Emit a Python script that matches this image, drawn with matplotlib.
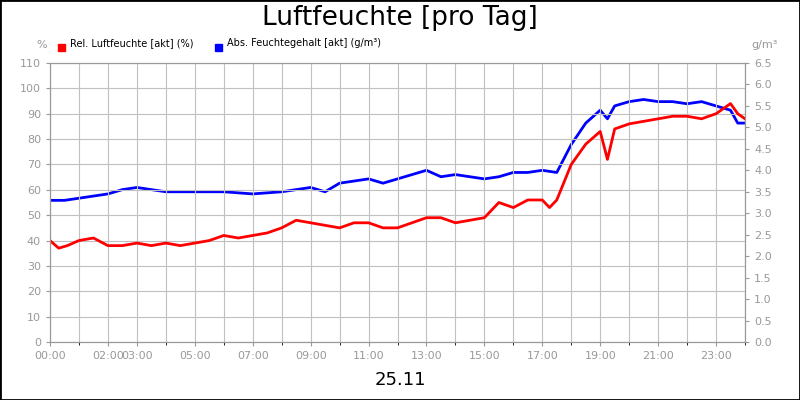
import matplotlib
matplotlib.use("Agg")
import matplotlib.pyplot as plt
from matplotlib.patches import Rectangle

hours_rel = [0,0.3,0.6,1,1.5,2,2.5,3,3.5,4,4.5,5,5.5,6,6.5,7,7.5,8,8.5,9,9.5,10,10.5,11,11.5,12,12.5,13,13.5,14,14.5,15,15.5,16,16.5,17,17.25,17.5,18,18.5,19,19.25,19.5,20,20.5,21,21.5,22,22.5,23,23.5,23.75,24]
rel = [40,37,38,40,41,38,38,39,38,39,38,39,40,42,41,42,43,45,48,47,46,45,47,47,45,45,47,49,49,47,48,49,55,53,56,56,53,56,70,78,83,72,84,86,87,88,89,89,88,90,94,90,88]
hours_abs = [0,0.5,1,1.5,2,2.5,3,3.5,4,5,6,7,8,8.5,9,9.5,10,10.5,11,11.5,12,12.5,13,13.5,14,14.5,15,15.5,16,16.5,17,17.5,18,18.5,19,19.25,19.5,20,20.5,21,21.5,22,22.5,23,23.5,23.75,24]
absf = [3.3,3.3,3.35,3.4,3.45,3.55,3.6,3.55,3.5,3.5,3.5,3.45,3.5,3.55,3.6,3.5,3.7,3.75,3.8,3.7,3.8,3.9,4.0,3.85,3.9,3.85,3.8,3.85,3.95,3.95,4.0,3.95,4.6,5.1,5.4,5.2,5.5,5.6,5.65,5.6,5.6,5.55,5.6,5.5,5.4,5.1,5.1]
xlabels = ["00:00","02:00","03:00","05:00","07:00","09:00","11:00","13:00","15:00","17:00","19:00","21:00","23:00"]
xlabel_hours = [0,2,3,5,7,9,11,13,15,17,19,21,23]

fig = plt.figure(figsize=(8,4), dpi=100)
fig.patches.append(Rectangle((0,0),1,1,transform=fig.transFigure,fill=False,ec='black',lw=2))
ax = fig.add_axes([50/800, 58/400, 695/800, 279/400])
ax.plot(hours_rel, rel, color='#ff0000', lw=2)
ax.set_xlim(0,24); ax.set_ylim(0,110)
ax.set_yticks(range(0,111,10))
ax.set_xticks(range(0,25), minor=True)
ax.set_xticks(xlabel_hours)
ax.set_xticklabels(xlabels)
ax.grid(True, which='both', color='#c0c0c0', lw=0.8)
ax.set_axisbelow(True)
ax2 = ax.twinx()
ax2.plot(hours_abs, absf, color='#0000ff', lw=2)
ax2.set_ylim(0,6.5)
ax2.set_yticks([i*0.5 for i in range(14)])
ax2.set_yticklabels([f"{i*0.5:.1f}" for i in range(14)])
ax.set_zorder(ax2.get_zorder()+1); ax.patch.set_visible(False)
for a in (ax, ax2):
    a.tick_params(labelsize=8, colors='#999999', length=3)
    for s in a.spines.values(): s.set_color('#999999')
fig.text(0.5, 0.955, "Luftfeuchte [pro Tag]", ha='center', va='center', fontsize=19)
fig.text(0.5, 0.05, "25.11", ha='center', va='center', fontsize=13)
fig.text(42/800, 0.88, "%", ha='center', fontsize=8, color='#999999')
fig.text(765/800, 0.88, "g/m³", ha='center', fontsize=8, color='#999999')
fig.patches.append(Rectangle((58/800,349/400),7/800,7/400,transform=fig.transFigure,color='#ff0000'))
fig.text(70/800, 0.885, "Rel. Luftfeuchte [akt] (%)", fontsize=7)
fig.patches.append(Rectangle((215/800,349/400),7/800,7/400,transform=fig.transFigure,color='#0000ff'))
fig.text(227/800, 0.885, "Abs. Feuchtegehalt [akt] (g/m³)", fontsize=7)
fig.savefig("out.png", dpi=100)
